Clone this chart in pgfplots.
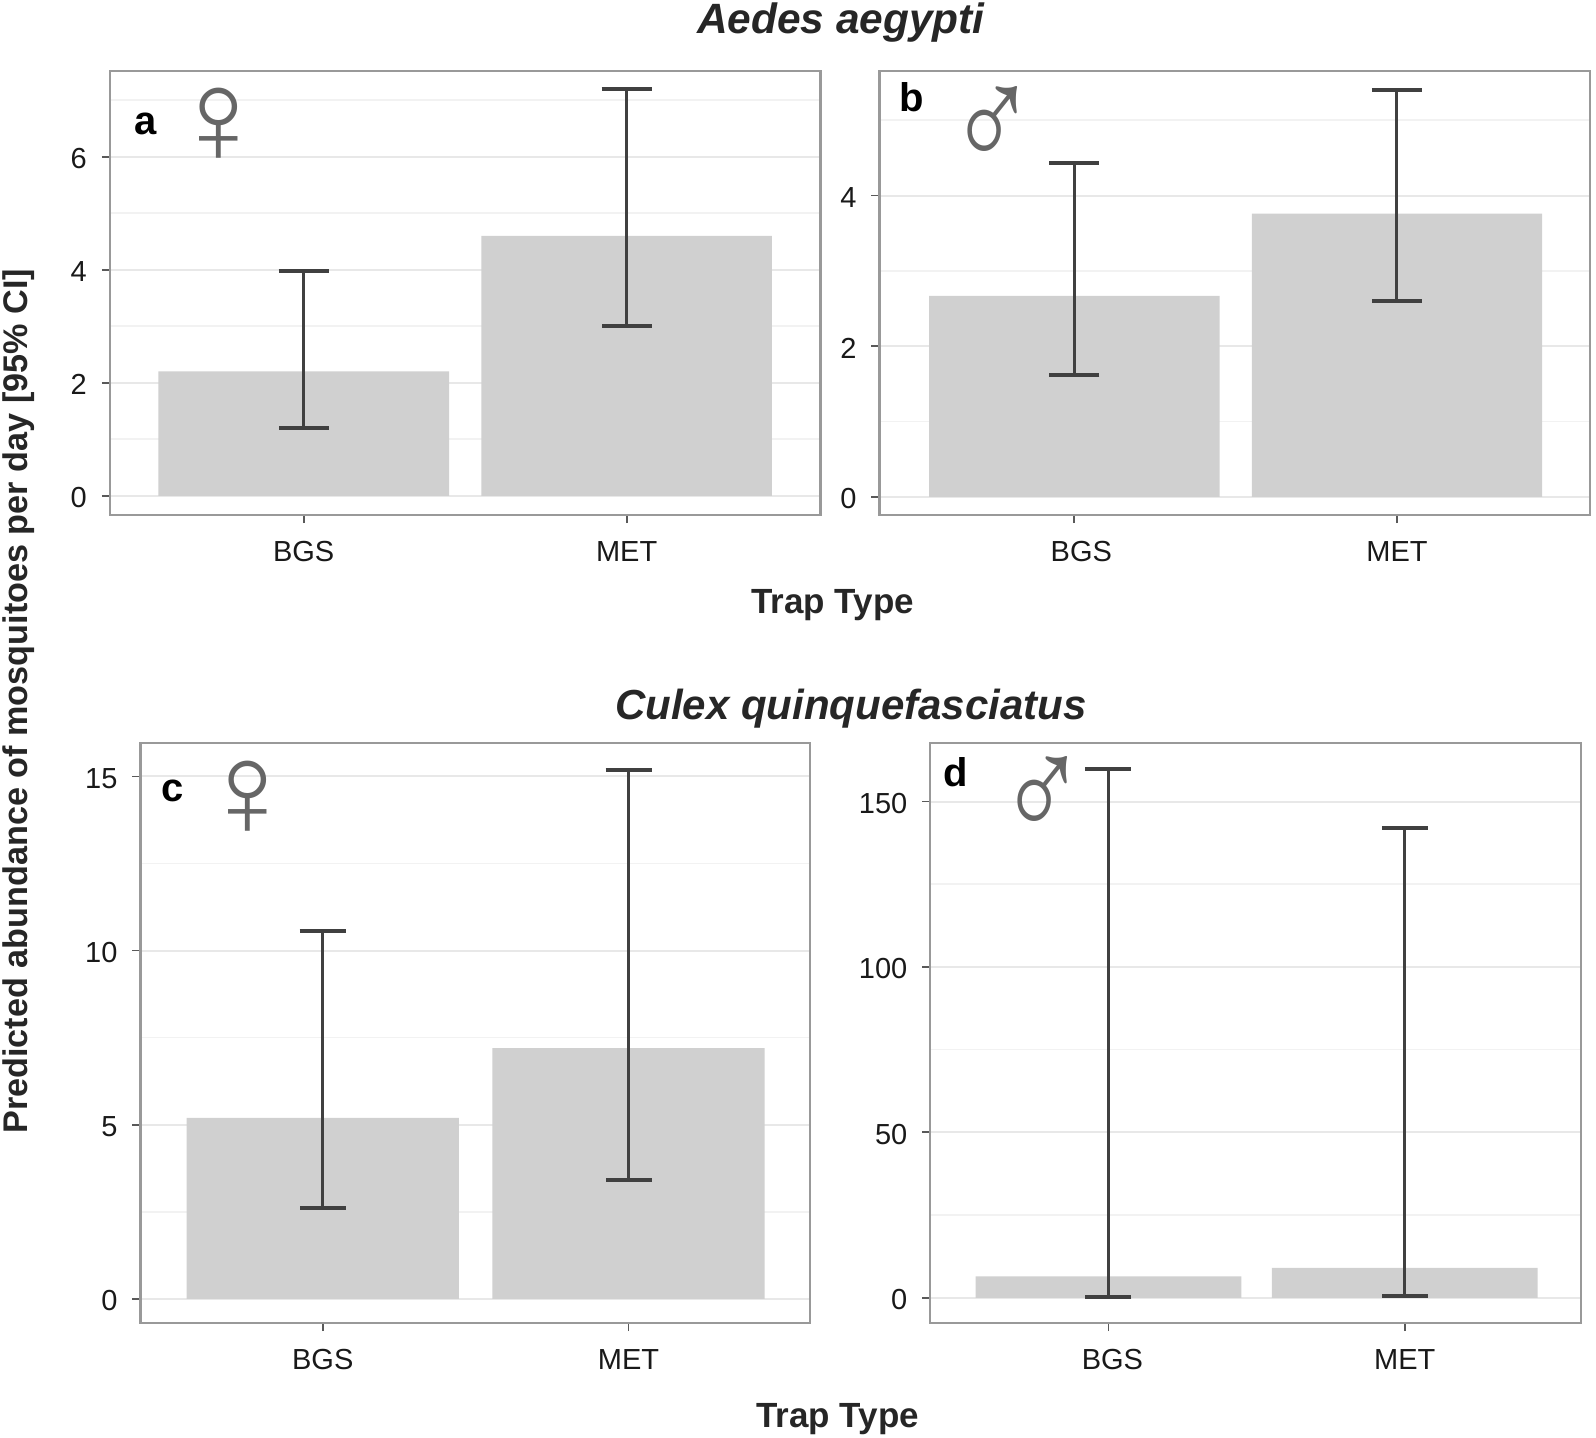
\documentclass[border=0pt]{standalone}
\usepackage{fontspec}
\setmainfont{Liberation Sans}
\usepackage{pgfplots}
\pgfplotsset{compat=1.18}
\definecolor{barfill}{HTML}{D0D0D0}
\definecolor{frame}{HTML}{999999}
\definecolor{errline}{HTML}{404040}
\definecolor{gridmaj}{HTML}{E8E8E8}
\definecolor{gridmin}{HTML}{F2F2F2}
\def\u{0.509pt}
\pgfplotsset{
  trap/.style={
    scale only axis, anchor=south west,
    xtick={0,1}, xticklabels={BGS,MET},
    xtick pos=bottom, ytick pos=left, tick align=outside,
    major tick length=4pt, minor tick length=0pt,
    tick style={color=black!65,line width=0.9pt},
    axis line style={color=frame,line width=1.1pt},
    ymajorgrids, yminorgrids,
    major grid style={color=gridmaj,line width=1pt},
    minor grid style={color=gridmin,line width=0.8pt},
    tick label style={font=\fontsize{14.5}{16}\selectfont,color=black!90},
    /pgf/number format/assume math mode=true,
    xticklabel style={yshift=-5.5pt},
    yticklabel style={xshift=-4pt,yshift=-1pt},
  },
  trapbar/.style 2 args={
    ybar, bar width=#2, bar shift=0pt, fill=barfill, draw=none,
    error bars/.cd, y dir=both, y explicit,
    error bar style={color=errline,line width=1.5pt},
    error mark options={color=errline,line width=2pt,rotate=90,mark size=#1},
  },
}
\begin{document}
\begin{tikzpicture}
\path[use as bounding box] (0,0) rectangle (1568*\u,1412*\u);

% a
\begin{axis}[trap, at={(108*\u,906*\u)}, width=698*\u, height=436*\u,
  xmin=-0.6, xmax=1.6,
  ymin=-0.34, ymax=7.51, ytick={0,2,4,6}, minor ytick={1,3,5,7}]
\addplot[trapbar={12.5pt}{0.9}] table[x=x,y=y,y error plus expr=\thisrow{hi}-\thisrow{y},y error minus expr=\thisrow{y}-\thisrow{lo}] {
x y lo hi
0 2.2 1.2 3.97
1 4.6 3.0 7.2
};
\end{axis}

% b
\begin{axis}[trap, at={(864*\u,906*\u)}, width=698*\u, height=436*\u,
  xmin=-0.604, xmax=1.598, xticklabels={\hspace*{7pt}BGS,MET},
  ymin=-0.24, ymax=5.65, ytick={0,2,4}, minor ytick={1,3,5}]
\addplot[trapbar={12.5pt}{0.9}] table[x=x,y=y,y error plus expr=\thisrow{hi}-\thisrow{y},y error minus expr=\thisrow{y}-\thisrow{lo}] {
x y lo hi
0 2.67 1.62 4.43
1 3.76 2.6 5.4
};
\end{axis}

% c
\begin{axis}[trap, at={(138*\u,112*\u)}, width=658*\u, height=570*\u,
  xmin=-0.596, xmax=1.594,
  ymin=-0.7, ymax=15.96, ytick={0,5,10,15}, minor ytick={2.5,7.5,12.5}]
\addplot[trapbar={11.5pt}{0.89}] table[x=x,y=y,y error plus expr=\thisrow{hi}-\thisrow{y},y error minus expr=\thisrow{y}-\thisrow{lo}] {
x y lo hi
0 5.2 2.6 10.55
1 7.2 3.4 15.2
};
\end{axis}

% d
\begin{axis}[trap, at={(914*\u,112*\u)}, width=639*\u, height=570*\u,
  xmin=-0.601, xmax=1.594, xticklabels={\hspace*{4pt}BGS,MET},
  ymin=-7.7, ymax=167.7, ytick={0,50,100,150}, minor ytick={25,75,125}]
\addplot[trapbar={11.5pt}{0.897}] table[x=x,y=y,y error plus expr=\thisrow{hi}-\thisrow{y},y error minus expr=\thisrow{y}-\thisrow{lo}] {
x y lo hi
0 6.5 0.2 160
1 9 0.5 142
};
\end{axis}

% titles and labels
\node[font=\fontsize{21.2}{24}\selectfont\bfseries\itshape,text=black!85] at (826*\u,1390*\u) {Aedes aegypti};
\node[font=\fontsize{21}{24}\selectfont\bfseries\itshape,text=black!85] at (836*\u,716*\u) {Culex quinquefasciatus};
\node[font=\fontsize{17.5}{20}\selectfont\bfseries,text=black!85] at (818*\u,818*\u) {Trap Type};
\node[font=\fontsize{17.5}{20}\selectfont\bfseries,text=black!85] at (823*\u,18*\u) {Trap Type};
\node[font=\fontsize{17.1}{20}\selectfont\bfseries,text=black!85,rotate=90] at (18*\u,723*\u) {Predicted abundance of mosquitoes per day [95\% CI]};

% panel letters
\node[font=\fontsize{20}{22}\selectfont\bfseries] at (143*\u,1290*\u) {a};
\node[font=\fontsize{20}{22}\selectfont\bfseries] at (896*\u,1316*\u) {b};
\node[font=\fontsize{20}{22}\selectfont\bfseries] at (170*\u,635*\u) {c};
\node[font=\fontsize{20}{22}\selectfont\bfseries] at (939*\u,653*\u) {d};

% sex symbols
\node[font=\fontsize{67}{70}\selectfont,text=black!60] at (215*\u,1288.5*\u) {♀};
\node[font=\fontsize{59}{62}\selectfont,text=black!60,yscale=1.25] at (975*\u,1286.5*\u) {♂};
\node[font=\fontsize{67}{70}\selectfont,text=black!60] at (243*\u,627.5*\u) {♀};
\node[font=\fontsize{59}{62}\selectfont,text=black!60,yscale=1.25] at (1024*\u,628*\u) {♂};
\end{tikzpicture}
\end{document}
